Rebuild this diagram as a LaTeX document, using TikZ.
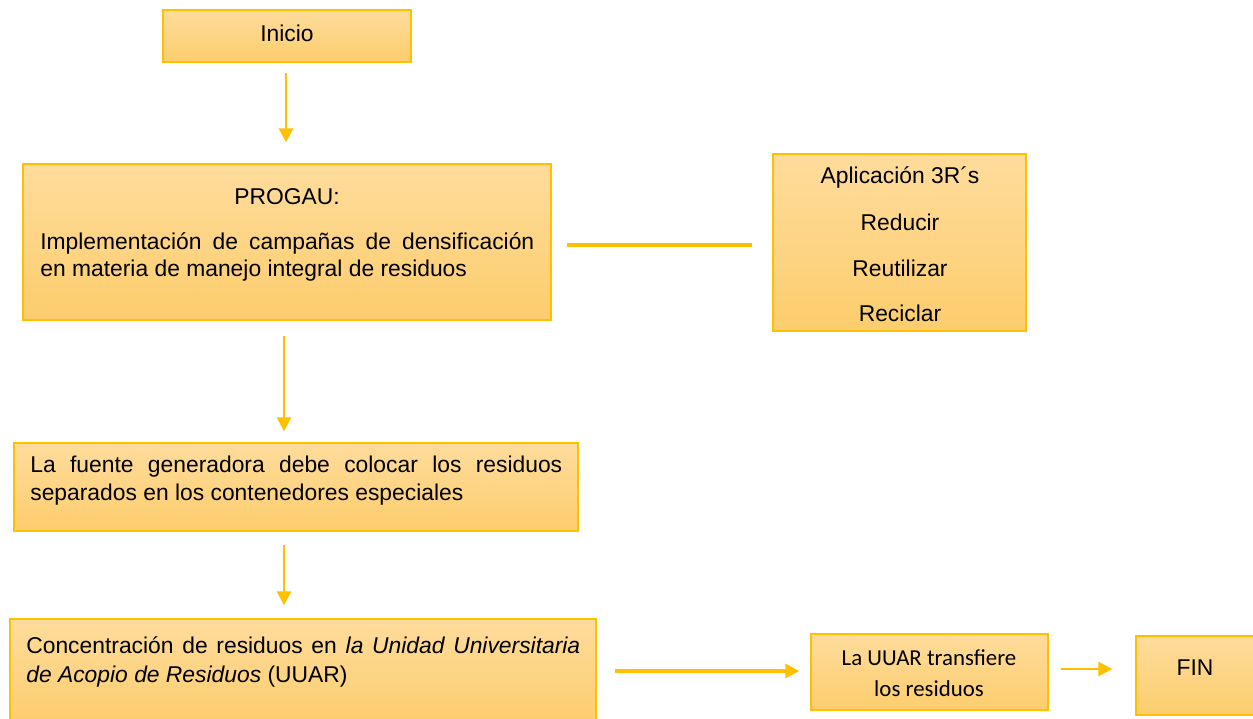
\documentclass[tikz,border=0pt]{standalone}
\usepackage{fontspec}
\setmainfont{Liberation Sans}
\newfontfamily\calibfont{Carlito}
\usetikzlibrary{arrows.meta,fit}
\definecolor{boxtop}{HTML}{FFDC9C}
\definecolor{boxbot}{HTML}{FCCD6D}
\definecolor{boxline}{HTML}{FFC000}
\definecolor{arrcol}{HTML}{FFC000}
\begin{document}
\begin{tikzpicture}[x=0.02cm,y=-0.02cm,
  box/.style={rectangle, draw=boxline, line width=0.8pt, top color=boxtop, bottom color=boxbot, inner sep=0pt},
  txt/.style={font=\fontsize{13}{16}\selectfont, inner sep=0pt, text=black},
  para/.style={txt, align=justify, anchor=base west},
  ctxt/.style={font=\calibfont\fontsize{13}{16}\selectfont, inner sep=0pt, text=black},
  tip/.style={-{Triangle[width=8pt,length=8pt]}},
  arr/.style={draw=arrcol, line width=1.6pt, tip},
  link/.style={draw=arrcol, line width=1.8pt},
]
\useasboundingbox (0,0) rectangle (1253,718);
\fill[white] (0,0) rectangle (1253,718);

% boxes
\node[box, fit={(163,10) (411,62)}] (inicio) {};
\node[box, fit={(23,164) (551,320)}] (progau) {};
\node[box, fit={(773,154) (1026,331)}] (r3) {};
\node[box, fit={(14,443) (578,531)}] (fuente) {};
\node[box, fit={(10,619) (596,724)}] (conc) {};
\node[box, fit={(811,634) (1048,710)}] (uuar) {};
\node[box, fit={(1136,636) (1258,715)}] (fin) {};

% texts
\node[txt] (tinicio) at (287,33) {Inicio};
\node[txt] (tprogau) at (287,197) {PROGAU:};
\node[para, text width=9.88cm, font=\fontsize{13}{15.9}\selectfont] (timpl) at (40,249)
  {Implementación de campañas de densificación\linebreak en materia de manejo integral de residuos};
\node[txt] (tapl) at (900,177) {Aplicación 3R´s};
\node[txt] (tred) at (900,222) {Reducir};
\node[txt] (treu) at (900,268) {Reutilizar};
\node[txt] (trec) at (900,313) {Reciclar};
\node[para, text width=10.64cm, font=\fontsize{13}{16.4}\selectfont] (tfuente) at (30,472)
  {La fuente generadora debe colocar los residuos\linebreak separados en los contenedores especiales};
\node[para, text width=11.08cm, font=\fontsize{13}{17}\selectfont] (tconc) at (26,653)
  {Concentración de residuos en \textit{la Unidad Universitaria}\linebreak \textit{de Acopio de Residuos} (UUAR)};
\node[ctxt] (tuuar1) at (929,658) {La UUAR transfiere};
\node[ctxt] (tuuar2) at (929,689) {los residuos};
\node[txt] (tfin) at (1195,668) {FIN};

% connectors
\draw[arr, shorten <=0.2cm, shorten >=0.42cm] (inicio.south -| 286,0) -- (progau.north -| 286,0);
\draw[link, shorten <=0.3cm, shorten >=0.4cm] (progau.east |- 0,245) -- (r3.west |- 0,245);
\draw[arr, shorten <=0.3cm, shorten >=0.22cm] (progau.south -| 284,0) -- (fuente.north -| 284,0);
\draw[arr, shorten <=0.26cm, shorten >=0.26cm] (fuente.south -| 284,0) -- (conc.north -| 284,0);
\draw[link, tip, shorten <=0.36cm, shorten >=0.22cm] (conc.east |- 0,671) -- (uuar.west |- 0,671);
\draw[arr, shorten <=0.24cm, shorten >=0.46cm] (uuar.east |- 0,669) -- (fin.west |- 0,669);
\end{tikzpicture}
\end{document}
